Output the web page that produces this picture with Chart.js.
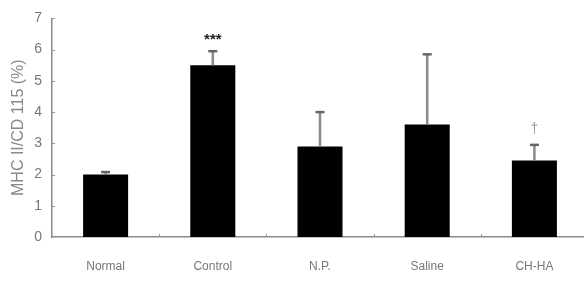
<!DOCTYPE html>
<html>
<head>
<meta charset="utf-8">
<script src="https://cdn.jsdelivr.net/npm/chart.js@4.4.0/dist/chart.umd.min.js"></script>
<style>
body { margin: 0; overflow: hidden; background: #fff; }
#wrap { width: 588px; height: 294px; }
</style>
</head>
<body>
<div id="wrap"><canvas id="grafica"></canvas></div>
<script>
var grupos = ['Normal', 'Control', 'N.P.', 'Saline', 'CH-HA'];
var medias = [2.0, 5.5, 2.9, 3.6, 2.45];
var errores = [0.08, 0.45, 1.1, 2.25, 0.5];
var marcas = ['', '***', '', '', '\u2020'];

// error bars (upper only) + significance marks
var barrasError = {
    id: 'barrasError',
    afterDatasetsDraw: function(chart) {
        var ctx = chart.ctx;
        var meta = chart.getDatasetMeta(0);
        var y = chart.scales.y;
        ctx.save();
        meta.data.forEach(function(bar, i) {
            var yTop = y.getPixelForValue(medias[i] + errores[i]);
            ctx.strokeStyle = '#8a8a8a';
            ctx.lineWidth = 2.5;
            ctx.beginPath();
            ctx.moveTo(bar.x, bar.y);
            ctx.lineTo(bar.x, yTop);
            ctx.stroke();
            ctx.strokeStyle = '#666';
            ctx.lineWidth = 2.5;
            ctx.beginPath();
            ctx.moveTo(bar.x - 4.5, yTop);
            ctx.lineTo(bar.x + 4.5, yTop);
            ctx.stroke();
            if (marcas[i]) {
                var estrellas = marcas[i] === '***';
                ctx.fillStyle = estrellas ? '#222' : '#999';
                ctx.font = estrellas ? 'bold 15px "Liberation Sans"' : '14px "Liberation Sans"';
                ctx.textAlign = 'center';
                ctx.textBaseline = 'middle';
                ctx.fillText(marcas[i], bar.x, yTop - (estrellas ? 11 : 16));
            }
        });
        // inward tick marks
        var x = chart.scales.x;
        var area = chart.chartArea;
        ctx.strokeStyle = '#999';
        ctx.lineWidth = 1;
        for (var v = 1; v <= 7; v++) {
            var py = Math.round(y.getPixelForValue(v)) + 0.5;
            ctx.beginPath();
            ctx.moveTo(area.left, py);
            ctx.lineTo(area.left + 3, py);
            ctx.stroke();
        }
        for (var k = 1; k < grupos.length; k++) {
            var px = Math.round((x.getPixelForValue(k - 1) + x.getPixelForValue(k)) / 2) + 0.5;
            ctx.beginPath();
            ctx.moveTo(px, area.bottom);
            ctx.lineTo(px, area.bottom - 3);
            ctx.stroke();
        }
        ctx.restore();
    }
};

document.addEventListener("DOMContentLoaded", function() {
    var ctx = document.getElementById("grafica").getContext("2d");
    new Chart(ctx, {
        type: 'bar',
        data: {
            labels: grupos,
            datasets: [{
                label: 'MHC II/CD 115',
                data: medias,
                backgroundColor: '#000',
                borderWidth: 0,
                categoryPercentage: 1,
                barPercentage: 0.42
            }]
        },
        options: {
            responsive: true,
            maintainAspectRatio: false,
            animation: false,
            layout: { padding: { top: 10, right: 0, left: 0, bottom: 0 } },
            plugins: {
                legend: { display: false },
                tooltip: { enabled: false }
            },
            scales: {
                x: {
                    grid: { display: false, drawTicks: false },
                    border: { color: '#8a8a8a', width: 1.5 },
                    ticks: {
                        color: '#777',
                        padding: 22,
                        font: { family: 'Liberation Sans', size: 12 }
                    },
                    afterFit: function(s) { s.height = 57; }
                },
                y: {
                    min: 0,
                    max: 7,
                    grid: { display: false, drawTicks: false },
                    border: { color: '#8a8a8a', width: 1.5 },
                    ticks: {
                        stepSize: 1,
                        color: '#777',
                        padding: 10,
                        font: { family: 'Liberation Sans', size: 14 }
                    },
                    title: {
                        display: true,
                        text: 'MHC II/CD 115 (%)',
                        color: '#888',
                        padding: { top: 9, bottom: 0 },
                        font: { family: 'Liberation Sans', size: 16 }
                    },
                    afterFit: function(s) { s.width = 52; }
                }
            }
        },
        plugins: [barrasError]
    });
});
</script>
</body>
</html>
